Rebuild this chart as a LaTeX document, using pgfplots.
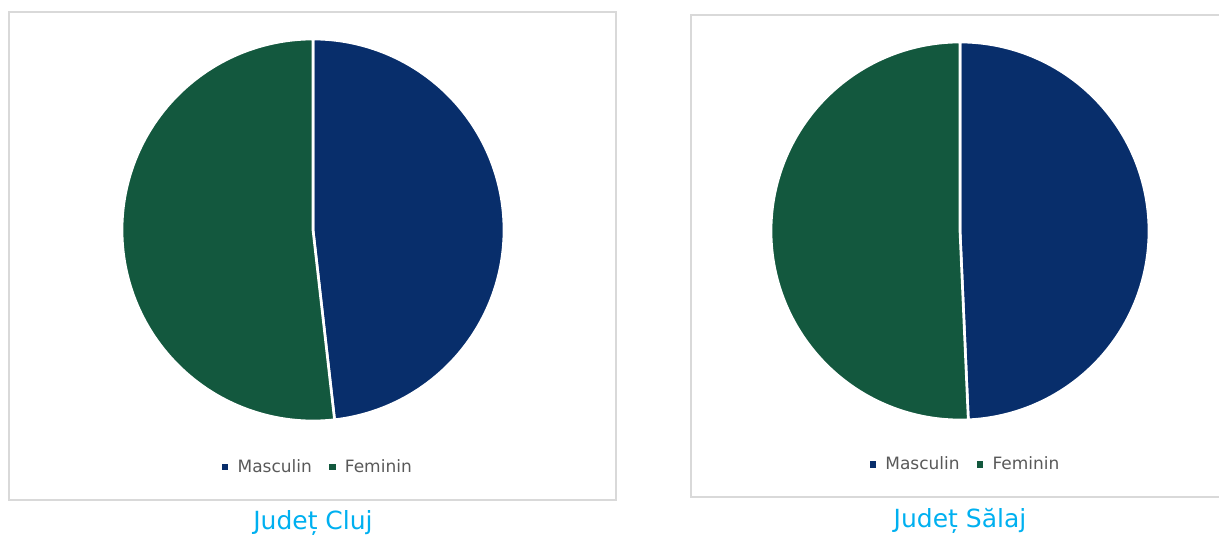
\documentclass[border=0pt]{standalone}
\usepackage{fontspec}
\setmainfont{DejaVu Sans}
\usepackage{pgfplots}
\pgfplotsset{compat=1.18}
\definecolor{masc}{RGB}{8,46,107}
\definecolor{fem}{RGB}{19,88,62}
\definecolor{legtext}{HTML}{595959}
\definecolor{boxline}{HTML}{D9D9D9}
\definecolor{captioncol}{HTML}{00B0F0}
% shares in percent
\def\clujM{48.2}\def\clujF{51.8}
\def\salajM{49.3}\def\salajF{50.7}
\pgfplotsset{
  piestyle/.style={
    hide axis, scale only axis, clip=false,
    xmin=-1,xmax=1,ymin=-1,ymax=1,
    legend columns=2,
    legend cell align=left,
    legend style={draw=none, fill=none, anchor=center,
      font=\fontsize{10.2}{12}\selectfont, text=legtext,
      /tikz/column 1/.style={column sep=2pt},
      /tikz/column 3/.style={column sep=2pt},
      /tikz/column 2/.style={column sep=7pt},
      /tikz/every node/.append style={inner xsep=3.5pt}},
  },
  slice/.style={draw=white, line width=1.6pt, samples=180, variable=\t, forget plot},
  legsq/.style={legend image code/.code={\fill[fill=#1,draw=none] (0pt,-1.9pt) rectangle (3.8pt,1.9pt);}},
}
\begin{document}
\begin{tikzpicture}
\path[use as bounding box] (0pt,0pt) rectangle (731.4pt,321.6pt);
% frames
\draw[boxline, line width=1pt] (5.4pt,21.6pt) rectangle (369.6pt,314.4pt);
\draw[boxline, line width=1pt] (414.6pt,23.4pt) rectangle (740pt,312.6pt);
% Cluj
\pgfmathsetmacro\aC{90-3.6*\clujM}
\begin{axis}[piestyle, at={(187.8pt,183.6pt)}, anchor=center,
  width=229.2pt, height=229.2pt,
  legend style={at={(0.518,-0.12)}}]
\addplot[slice, fill=masc, domain=\aC:90] ({cos(t)},{sin(t)}) -- (axis cs:0,0) -- cycle;
\addplot[slice, fill=fem, domain=-270:\aC] ({cos(t)},{sin(t)}) -- (axis cs:0,0) -- cycle;
\addlegendimage{legsq=masc}
\addlegendentry{Masculin}
\addlegendimage{legsq=fem}
\addlegendentry{Feminin}
\end{axis}
% Salaj
\pgfmathsetmacro\aS{90-3.6*\salajM}
\begin{axis}[piestyle, at={(576pt,183pt)}, anchor=center,
  width=226.8pt, height=226.8pt,
  legend style={at={(0.52,-0.118)}}]
\addplot[slice, fill=masc, domain=\aS:90] ({cos(t)},{sin(t)}) -- (axis cs:0,0) -- cycle;
\addplot[slice, fill=fem, domain=-270:\aS] ({cos(t)},{sin(t)}) -- (axis cs:0,0) -- cycle;
\addlegendimage{legsq=masc}
\addlegendentry{Masculin}
\addlegendimage{legsq=fem}
\addlegendentry{Feminin}
\end{axis}
\node[text=captioncol, font=\fontsize{15}{18}\selectfont] at (187.8pt,7.8pt) {Județ Cluj};
\node[text=captioncol, font=\fontsize{15}{18}\selectfont] at (576pt,9.0pt) {Județ Sălaj};
\end{tikzpicture}
\end{document}
